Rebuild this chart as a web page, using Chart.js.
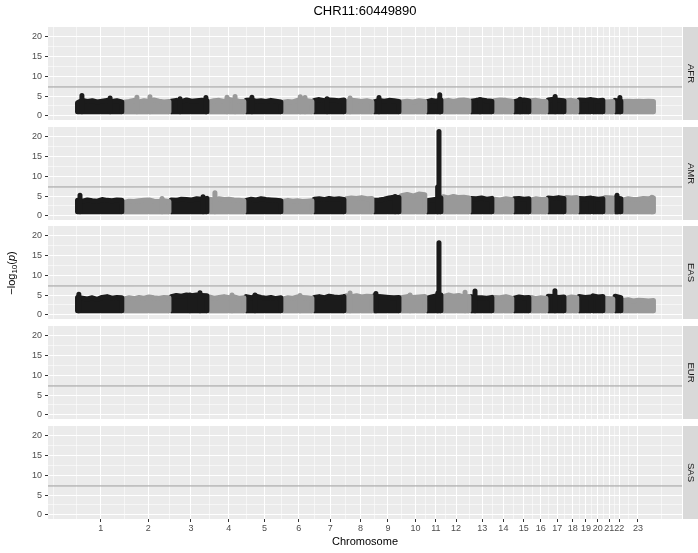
<!DOCTYPE html>
<html lang="en">
<head>
<meta charset="UTF-8">
<title>CHR11:60449890</title>
<style>
    body {
        margin: 0;
        background: #ffffff;
        font-family: 'Liberation Sans', Arial, sans-serif;
    }
    #wrap {
        position: relative;
        width: 698px;
        height: 553px;
        overflow: hidden;
    }
    #wrap canvas {
        position: absolute;
        left: 0;
    }
</style>
</head>
<body>
<div id="wrap">
    <canvas id="p0"></canvas>
    <canvas id="p1"></canvas>
    <canvas id="p2"></canvas>
    <canvas id="p3"></canvas>
    <canvas id="p4"></canvas>
</div>

<script src="https://cdn.jsdelivr.net/npm/chart.js"></script>
<script>
// ---- data ----
const panels = ['AFR', 'AMR', 'EAS', 'EUR', 'SAS'];
const chrLabels = ['1','2','3','4','5','6','7','8','9','10','11','12','13','14','15','16','17','18','19','20','21','22','23'];
// cumulative genome position (Mb) of each chromosome label
const chrCentre = [139, 387, 610, 807, 993, 1172, 1337, 1494, 1638, 1781, 1888, 1993, 2130, 2240, 2346, 2435, 2521, 2602, 2671, 2732, 2793, 2845, 2942];
// first / last SNP of each chromosome (Mb)
const chrStart = [18, 261, 507, 705, 898, 1091, 1253, 1420, 1566, 1707, 1842, 1926, 2072, 2192, 2296, 2385, 2474, 2568, 2635, 2708, 2771, 2823, 2865];
const chrEnd   = [249, 495, 693, 886, 1079, 1241, 1408, 1554, 1695, 1830, 1914, 2060, 2180, 2284, 2373, 2462, 2556, 2623, 2696, 2759, 2811, 2853, 3023];
// 0 = dark, 1 = grey (colour follows factor order of the chromosome names)
const chrShade = [0,1,0,1,0,1,0,1,0,1,0,1,0,1,0,1,0,1,0,0,1,0,1];

const pMin = 1;          // smallest -log10(p) plotted
const gwLine = 7.3;      // genome-wide significance, -log10(5e-8)

// upper edge of the dense SNP cloud along each chromosome, -log10(p)
const afrTop = [
    [3.3, 3.9, 3.6, 3.8, 3.5, 3.7, 3.9, 3.6, 3.8, 3.5],
    [3.4, 3.6, 3.9, 3.5, 3.8, 3.6, 4.0, 3.7, 3.5, 3.6],
    [3.7, 3.9, 3.6, 4.0, 3.7, 3.8, 3.9, 3.8],
    [3.5, 3.8, 3.9, 3.6, 4.1, 3.9, 3.7, 3.6],
    [3.9, 4.0, 3.7, 3.8, 3.6, 3.9, 3.7, 3.5],
    [3.4, 3.6, 3.5, 3.9, 3.7, 3.8, 3.6],
    [3.9, 4.1, 3.8, 4.0, 3.9, 3.8, 4.0],
    [3.6, 3.9, 3.8, 3.6, 3.8, 3.5],
    [3.5, 3.9, 3.7, 3.9, 3.8, 3.6],
    [3.5, 3.7, 3.5, 3.8, 3.6],
    [3.6, 3.9, 3.7, 4.0],
    [3.7, 3.9, 3.6, 3.9, 4.0, 3.8],
    [3.7, 3.9, 4.0, 3.8, 3.7],
    [3.8, 4.0, 3.9, 3.7],
    [3.5, 3.9, 4.0, 3.8],
    [3.8, 3.9, 3.7, 3.6],
    [4.0, 4.2, 3.9, 3.8],
    [3.8, 3.9, 3.7],
    [4.0, 3.9, 4.1],
    [4.0, 3.8, 3.9],
    [3.5, 3.6],
    [3.9, 3.7],
    [3.6, 3.7, 3.6, 3.7, 3.6, 3.7, 3.6]
];
const amrTop = [
    [3.9, 3.7, 4.0, 3.8, 3.7, 4.1, 3.9, 3.8, 4.0, 3.9],
    [3.4, 3.7, 3.6, 3.8, 3.9, 4.0, 3.7, 3.6, 3.8, 3.6],
    [4.0, 3.9, 4.2, 4.1, 4.0, 4.3, 4.2, 4.4],
    [4.2, 4.0, 4.3, 4.1, 4.2, 4.0, 3.9, 3.8],
    [3.9, 4.2, 4.0, 4.3, 4.1, 4.0, 3.9, 3.8],
    [3.6, 3.9, 3.7, 3.8, 3.6, 3.7, 3.8],
    [4.2, 4.3, 4.1, 4.4, 4.2, 4.3, 4.1],
    [4.3, 4.5, 4.4, 4.6, 4.3, 4.4],
    [3.9, 4.0, 4.2, 4.5, 4.7, 4.6],
    [5.1, 5.4, 5.0, 5.5, 5.3],
    [3.8, 4.0, 4.2, 4.5],
    [4.8, 4.5, 4.9, 4.6, 4.7, 4.5],
    [4.4, 4.3, 4.5, 4.2, 4.4],
    [4.2, 4.0, 4.3, 4.1],
    [4.3, 4.4, 4.2, 4.3],
    [4.0, 4.3, 4.1, 4.2],
    [4.5, 4.4, 4.6, 4.4],
    [4.6, 4.5, 4.6],
    [4.4, 4.3, 4.5],
    [4.4, 4.2, 4.3],
    [4.6, 4.5],
    [4.5, 4.3],
    [4.0, 4.3, 4.1, 4.2, 4.4, 4.3, 4.5]
];
const easTop = [
    [4.4, 4.2, 4.0, 4.3, 3.9, 4.4, 4.6, 4.2, 4.4, 4.3],
    [4.0, 4.3, 4.1, 4.4, 4.2, 4.5, 4.3, 4.2, 4.4, 4.3],
    [4.6, 4.9, 4.7, 5.0, 4.8, 5.0, 4.9, 4.8],
    [4.5, 4.2, 4.4, 4.6, 4.3, 4.5, 4.2, 4.3],
    [4.6, 4.3, 4.7, 4.4, 4.2, 4.4, 4.1, 4.3],
    [4.0, 4.3, 4.2, 4.5, 4.4, 4.3, 4.2],
    [4.4, 4.6, 4.3, 4.7, 4.5, 4.4, 4.6],
    [4.8, 4.6, 4.8, 4.5, 4.7, 4.6],
    [4.8, 4.6, 4.5, 4.4, 4.3, 4.4],
    [4.3, 4.6, 4.4, 4.5, 4.6],
    [4.2, 4.5, 4.8, 5.0],
    [4.6, 5.0, 4.7, 4.9, 4.5, 4.6],
    [4.6, 4.4, 4.3, 4.2, 4.4],
    [4.4, 4.3, 4.6, 4.2],
    [4.2, 4.5, 4.3, 4.4],
    [4.4, 4.1, 4.3, 4.2],
    [4.7, 4.6, 4.4, 4.5],
    [4.2, 4.5, 4.3],
    [4.6, 4.4, 4.5],
    [4.8, 4.5, 4.6],
    [4.2, 4.0],
    [4.7, 4.3],
    [3.6, 3.8, 3.5, 3.7, 3.6, 3.5, 3.6]
];
const eurTop = [];
const sasTop = [];

// single SNPs standing out above the cloud: [position Mb, -log10(p)]
const afrPeaks = [[41, 5.1], [188, 4.5], [328, 4.7], [396, 4.8], [553, 4.3], [688, 4.6], [798, 4.7], [840, 4.9], [928, 4.7],
                  [1180, 4.8], [1205, 4.6], [1320, 4.3], [1440, 4.5], [1591, 4.6], [1908, 5.3], [2118, 4.1], [2327, 4.2], [2510, 4.9], [2848, 4.6]];
const amrPeaks = [[31, 5.2], [459, 4.4], [673, 4.8], [735, 5.8], [1675, 4.9], [1897, 7.3], [2833, 5.2], [3015, 4.7]];
const easPeaks = [[25, 5.2], [605, 5.0], [657, 5.6], [824, 5.0], [944, 5.0], [1179, 4.9], [1440, 5.5], [1575, 5.4], [1753, 5.0],
                  [1898, 5.5], [2040, 5.7], [2092, 6.0], [2509, 6.1]];

// the chr11 hit
const amrSpike = [{x: 1904, y: 5.0}, {x: 1904, y: 21.3}];
const easSpike = [{x: 1904, y: 5.0}, {x: 1904, y: 18.2}];

const panelTops = [afrTop, amrTop, easTop, eurTop, sasTop];
const panelPeaks = [afrPeaks, amrPeaks, easPeaks, [], []];
const panelSpikes = [null, amrSpike, easSpike, null, null];

// ---- layout / style ----
const xMin = -136, xMax = 3172, yMin = -1.07, yMax = 22.47;
const yMajor = [0, 5, 10, 15, 20];
const panelTop = [27, 127, 226, 326, 426];
const panelH = 93;
const shadeColour = ['#1b1b1b', '#999999'];
const fontFamily = "'Liberation Sans', Arial, sans-serif";
const floorFill = 0.4;

// ggplot-style minor breaks (include the majors, one step beyond each end)
function minorBreaks(b, lo, hi) {
    const d = b[1] - b[0];
    const ext = [b[0] - d].concat(b, [b[b.length - 1] + d]);
    const out = [];
    for (let i = 0; i < ext.length - 1; i++) {
        out.push(ext[i], (ext[i] + ext[i + 1]) / 2);
    }
    out.push(ext[ext.length - 1]);
    return out.filter(v => v >= lo && v <= hi);
}

function shadeAt(x) {
    for (let i = 0; i < chrStart.length; i++) {
        if (x >= chrStart[i] - 8 && x <= chrEnd[i] + 8) return chrShade[i];
    }
    return 0;
}

// panel background, facet strip, and (on one panel) the shared y-axis title
const panelPlugin = {
    id: 'panel',
    beforeDraw(chart) {
        const a = chart.chartArea, ctx = chart.ctx;
        ctx.save();
        ctx.fillStyle = '#EBEBEB';
        ctx.fillRect(a.left, a.top, a.right - a.left, a.bottom - a.top);
        ctx.restore();
    },
    afterDraw(chart, args, opts) {
        const a = chart.chartArea, ctx = chart.ctx;
        ctx.save();
        ctx.fillStyle = '#D9D9D9';
        ctx.fillRect(a.right + 1, a.top, chart.width - a.right - 1, a.bottom - a.top);
        ctx.translate((a.right + 1 + chart.width) / 2, (a.top + a.bottom) / 2);
        ctx.rotate(Math.PI / 2);
        ctx.fillStyle = '#1A1A1A';
        ctx.font = '9.5px ' + fontFamily;
        ctx.textAlign = 'center';
        ctx.textBaseline = 'middle';
        ctx.fillText(opts.label, 0, 0);
        ctx.restore();

        if (opts.yTitleAt != null) {
            const parts = [
                {t: '\u2212log', f: '11px ' + fontFamily, dy: 0},
                {t: '10', f: '8px ' + fontFamily, dy: 3},
                {t: '(', f: '11px ' + fontFamily, dy: 0},
                {t: 'p', f: 'italic 11px ' + fontFamily, dy: 0},
                {t: ')', f: '11px ' + fontFamily, dy: 0}
            ];
            ctx.save();
            ctx.fillStyle = '#000000';
            ctx.textBaseline = 'middle';
            ctx.textAlign = 'left';
            let total = 0;
            parts.forEach(p => { ctx.font = p.f; p.w = ctx.measureText(p.t).width; total += p.w; });
            ctx.translate(12, opts.yTitleAt);
            ctx.rotate(-Math.PI / 2);
            let x = -total / 2;
            parts.forEach(p => { ctx.font = p.f; ctx.fillText(p.t, x, p.dy); x += p.w; });
            ctx.restore();
        }
    }
};

function buildDatasets(tops, peaks, spike) {
    const ds = [];
    ds.push({
        data: [{x: xMin, y: gwLine}, {x: xMax, y: gwLine}],
        borderColor: '#9a9a9a', borderWidth: 1, pointRadius: 0, fill: false, order: 3
    });
    tops.forEach((t, i) => {
        const col = shadeColour[chrShade[i]];
        const s = chrStart[i], e = chrEnd[i];
        const pts = [{x: s, y: pMin}];
        t.forEach((v, j) => {
            pts.push({x: t.length > 1 ? s + (e - s) * j / (t.length - 1) : (s + e) / 2, y: v});
        });
        pts.push({x: e, y: pMin});
        ds.push({
            data: pts,
            borderColor: col,
            backgroundColor: col,
            borderWidth: 5,
            borderJoinStyle: 'round',
            borderCapStyle: 'round',
            pointRadius: 0,
            tension: 0,
            fill: {target: {value: floorFill}},
            order: 2
        });
    });
    // stacked SNP columns, one dataset per shade, broken by gaps
    [0, 1].forEach(sh => {
        const pts = [];
        peaks.filter(p => shadeAt(p[0]) === sh).forEach(p => {
            pts.push({x: p[0], y: pMin}, {x: p[0], y: p[1]}, {x: p[0], y: null});
        });
        if (pts.length) {
            ds.push({
                data: pts, borderColor: shadeColour[sh], borderWidth: 5,
                borderCapStyle: 'round', pointRadius: 0, spanGaps: false, fill: false, order: 1
            });
        }
    });
    if (spike) {
        ds.push({
            data: spike, borderColor: shadeColour[0], borderWidth: 5,
            borderCapStyle: 'round', pointRadius: 0, fill: false, order: 0
        });
    }
    return ds;
}

const xTicks = minorBreaks(chrCentre, xMin, xMax);
const yTicks = minorBreaks(yMajor, yMin, yMax);
const yTitleCentre = (panelTop[0] + panelTop[panelTop.length - 1] + panelH) / 2;

panels.forEach((name, k) => {
    const first = k === 0;
    const last = k === panels.length - 1;
    const canvas = document.getElementById('p' + k);
    const top = first ? 0 : panelTop[k] - 10;
    const height = first ? panelTop[0] + panelH + 10 : (last ? 10 + panelH + 34 : 10 + panelH + 10);
    canvas.width = 698;
    canvas.height = height;
    canvas.style.top = top + 'px';

    const gridColour = c => (c.tick && c.tick.main) ? '#FFFFFF' : 'rgba(255,255,255,0.55)';
    const tickColour = c => (c.tick && c.tick.main) ? '#333333' : 'rgba(0,0,0,0)';

    new Chart(canvas, {
        type: 'line',
        data: {datasets: buildDatasets(panelTops[k], panelPeaks[k], panelSpikes[k])},
        options: {
            responsive: false,
            animation: false,
            events: [],
            layout: {padding: {left: 0, right: 16, top: first ? 0 : 10, bottom: last ? 0 : 10}},
            plugins: {
                legend: {display: false},
                tooltip: {enabled: false},
                title: {
                    display: first,
                    text: 'CHR11:60449890',
                    fullSize: false,
                    color: '#000000',
                    font: {family: fontFamily, size: 13, weight: 'normal'},
                    padding: {top: 4, bottom: 7.4}
                },
                panel: {
                    label: name,
                    yTitleAt: k === 2 ? yTitleCentre - top : null
                }
            },
            scales: {
                x: {
                    type: 'linear',
                    min: xMin,
                    max: xMax,
                    border: {display: false},
                    afterBuildTicks: s => {
                        s.ticks = xTicks.map(v => ({value: v, main: chrCentre.indexOf(v) >= 0}));
                    },
                    afterFit: s => { s.height = last ? 34 : 0; },
                    grid: {
                        color: gridColour,
                        lineWidth: 1,
                        drawTicks: last,
                        tickLength: 3,
                        tickColor: tickColour,
                        tickWidth: 1
                    },
                    ticks: {
                        display: last,
                        autoSkip: false,
                        maxRotation: 0,
                        minRotation: 0,
                        padding: 1,
                        color: '#4D4D4D',
                        font: {family: fontFamily, size: 9},
                        callback: v => {
                            const i = chrCentre.indexOf(v);
                            return i >= 0 ? chrLabels[i] : '';
                        }
                    },
                    title: {
                        display: last,
                        text: 'Chromosome',
                        color: '#000000',
                        font: {family: fontFamily, size: 11},
                        padding: {top: 0, bottom: 4}
                    }
                },
                y: {
                    type: 'linear',
                    min: yMin,
                    max: yMax,
                    border: {display: false},
                    afterBuildTicks: s => {
                        s.ticks = yTicks.map(v => ({value: v, main: yMajor.indexOf(v) >= 0}));
                    },
                    afterFit: s => { s.width = 48; },
                    grid: {
                        color: gridColour,
                        lineWidth: 1,
                        drawTicks: true,
                        tickLength: 3,
                        tickColor: tickColour,
                        tickWidth: 1
                    },
                    ticks: {
                        autoSkip: false,
                        padding: 3,
                        color: '#4D4D4D',
                        font: {family: fontFamily, size: 9},
                        callback: v => yMajor.indexOf(v) >= 0 ? String(v) : ''
                    }
                }
            }
        },
        plugins: [panelPlugin]
    });
});
</script>
</body>
</html>
